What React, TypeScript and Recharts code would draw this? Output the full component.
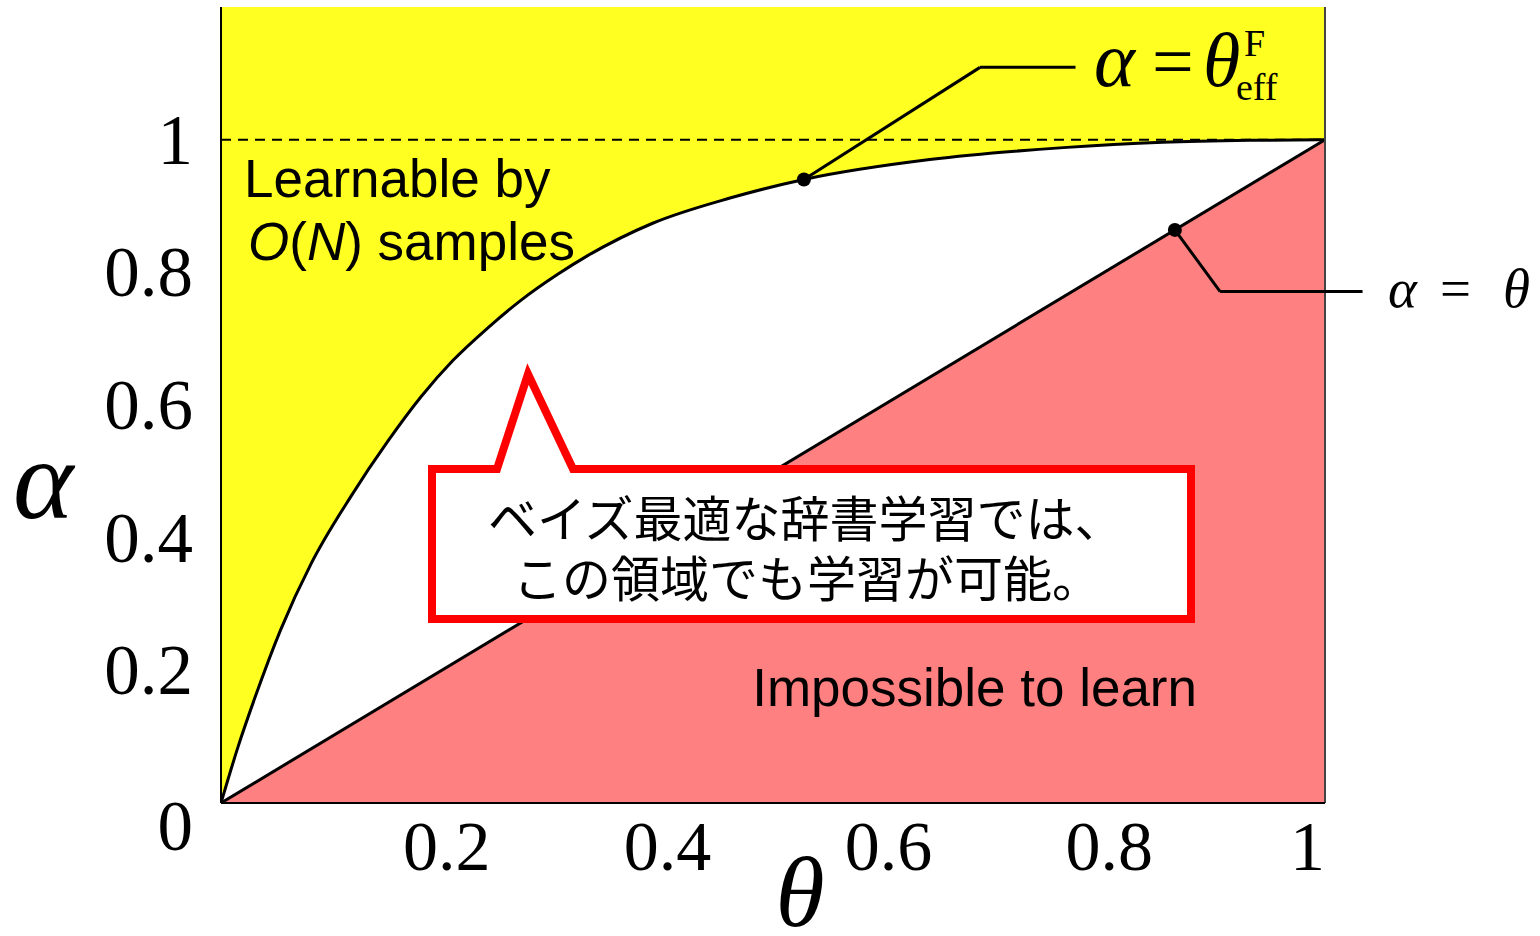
import React from "react";
import {
  ComposedChart,
  Area,
  XAxis,
  YAxis,
  CartesianGrid,
  ReferenceLine,
  ReferenceDot,
} from "recharts";

// boundary alpha = theta_eff^F, sampled along theta
const THETA = [0, 0.0155, 0.031, 0.054, 0.082, 0.118, 0.151, 0.181, 0.21, 0.2415, 0.271, 0.305, 0.331, 0.391, 0.461, 0.528, 0.642, 0.763, 0.853, 0.932, 1];
const ALPHA_EFF = [0, 0.085, 0.16, 0.261, 0.362, 0.463, 0.545, 0.612, 0.667, 0.716, 0.757, 0.797, 0.824, 0.874, 0.912, 0.94, 0.97, 0.988, 0.996, 0.999, 1];

// alpha = theta line
const DIAG_THETA = [0, 1];
const DIAG_ALPHA = [0, 1];

const X_TICKS = [0.2, 0.4, 0.6, 0.8, 1];
const Y_TICKS = [0, 0.2, 0.4, 0.6, 0.8, 1];

// marked points and their leader lines (theta, alpha)
const CURVE_LEADER = [
  [0.528, 0.94],
  [0.6875, 1.109],
  [0.774, 1.109],
];
const DIAG_LEADER = [
  [0.864, 0.864],
  [0.905, 0.771],
  [1.034, 0.771],
];

const curveData = THETA.map((t, i) => ({ theta: t, alpha: ALPHA_EFF[i] }));
const diagData = DIAG_THETA.map((t, i) => ({ theta: t, alpha: DIAG_ALPHA[i] }));

const W = 1540;
const H = 936;
const SERIF = "'Liberation Serif', 'Times New Roman', serif";
const SANS = "'Liberation Sans', Arial, sans-serif";
const CJK = "'Noto Sans CJK JP', sans-serif";

const YELLOW = "#FFFF22";
const PINK = "#FF8080";
const RED = "#FF0000";

function XTick(props: any) {
  const { x, y, payload } = props;
  const last = payload.value === 1;
  return (
    <text
      x={last ? x : x + 5}
      y={y + 67}
      textAnchor={last ? "end" : "middle"}
      fontFamily={SERIF}
      fontSize={70}
      fill="#000"
    >
      {String(payload.value)}
    </text>
  );
}

function YTick(props: any) {
  const { x, y, payload } = props;
  const drop = payload.value === 0 ? 23 : 0;
  return (
    <text
      x={x - 28}
      y={y + 24 + drop}
      textAnchor="end"
      fontFamily={SERIF}
      fontSize={71}
      fill="#000"
    >
      {String(payload.value)}
    </text>
  );
}

function leaderSegments(pts: number[][], key: string) {
  const out = [];
  for (let i = 0; i < pts.length - 1; i++) {
    out.push(
      <ReferenceLine
        key={`${key}-${i}`}
        segment={[
          { x: pts[i][0], y: pts[i][1] },
          { x: pts[i + 1][0], y: pts[i + 1][1] },
        ]}
        stroke="#000"
        strokeWidth={3}
        ifOverflow="visible"
      />
    );
  }
  return out;
}

export default function App() {
  return (
    <div style={{ position: "absolute", left: 0, top: 0, width: W, height: H, background: "#fff" }}>
      <ComposedChart
        width={W}
        height={H}
        margin={{ top: 7, right: 215, bottom: 0, left: 0 }}
      >
        <CartesianGrid fill={YELLOW} fillOpacity={1} horizontal={false} vertical={false} />
        <XAxis
          type="number"
          dataKey="theta"
          domain={[0, 1]}
          ticks={X_TICKS}
          height={133}
          tickSize={0}
          tickMargin={0}
          tickLine={false}
          axisLine={{ stroke: "#000", strokeWidth: 2 }}
          tick={<XTick />}
          allowDataOverflow
        />
        <YAxis
          type="number"
          dataKey="alpha"
          domain={[0, 1.2]}
          ticks={Y_TICKS}
          width={221}
          tickSize={0}
          tickMargin={0}
          tickLine={false}
          axisLine={{ stroke: "#000", strokeWidth: 2 }}
          tick={<YTick />}
          allowDataOverflow
        />
        <Area
          data={curveData}
          dataKey="alpha"
          type="monotone"
          baseValue={0}
          fill="#fff"
          fillOpacity={1}
          stroke="#000"
          strokeWidth={3}
          isAnimationActive={false}
          dot={false}
          activeDot={false}
        />
        <Area
          data={diagData}
          dataKey="alpha"
          type="linear"
          baseValue={0}
          fill={PINK}
          fillOpacity={1}
          stroke="#000"
          strokeWidth={3}
          isAnimationActive={false}
          dot={false}
          activeDot={false}
        />
        <ReferenceLine y={1} stroke="#000" strokeWidth={2} strokeDasharray="10 7" />
        <ReferenceLine x={1} stroke="#444" strokeWidth={2} />
        {leaderSegments(CURVE_LEADER, "curve")}
        {leaderSegments(DIAG_LEADER, "diag")}
        <ReferenceDot x={CURVE_LEADER[0][0]} y={CURVE_LEADER[0][1]} r={7} fill="#000" stroke="none" />
        <ReferenceDot x={DIAG_LEADER[0][0]} y={DIAG_LEADER[0][1]} r={7} fill="#000" stroke="none" />
      </ComposedChart>

      <svg
        width={W}
        height={H}
        style={{ position: "absolute", left: 0, top: 0, pointerEvents: "none" }}
      >
        {/* region labels */}
        <text x={244} y={197} fontFamily={SANS} fontSize={53} fill="#000">
          Learnable by
        </text>
        <text x={248} y={260} fontFamily={SANS} fontSize={53} fill="#000">
          <tspan fontStyle="italic">O</tspan>(<tspan fontStyle="italic">N</tspan>) samples
        </text>
        <text x={1197} y={706} textAnchor="end" fontFamily={SANS} fontSize={53} fill="#000">
          Impossible to learn
        </text>

        {/* axis titles */}
        <text x={13} y={518} fontFamily={SERIF} fontStyle="italic" fontSize={115} fill="#000">
          α
        </text>
        <text x={800} y={926} textAnchor="middle" fontFamily={SERIF} fontStyle="italic" fontSize={100} fill="#000">
          θ
        </text>

        {/* curve label */}
        <g fontFamily={SERIF} fill="#000">
          <text x={1094} y={86} fontSize={78} fontStyle="italic">α</text>
          <text x={1152} y={86} fontSize={74}>=</text>
          <text x={1203} y={86} fontSize={76} fontStyle="italic">θ</text>
          <text x={1244} y={56} fontSize={38}>F</text>
          <text x={1236} y={100} fontSize={38}>eff</text>
        </g>

        {/* diagonal label */}
        <g fontFamily={SERIF} fill="#000" fontSize={55}>
          <text x={1388} y={307} fontStyle="italic">α</text>
          <text x={1440} y={307}>=</text>
          <text x={1503} y={307} fontStyle="italic">θ</text>
        </g>

        {/* callout */}
        <path
          d="M432 469 L497 469 L528 374 L573 469 L1191 469 L1191 619 L432 619 Z"
          fill="#fff"
          stroke={RED}
          strokeWidth={8}
          strokeLinejoin="miter"
        />
        <text fontFamily={CJK} fontSize={49} fill="#000">
          <tspan x={488} y={537}>ベイズ最適な辞書学習では、</tspan>
          <tspan x={513} y={597}>この領域でも学習が可能。</tspan>
        </text>
      </svg>
    </div>
  );
}
